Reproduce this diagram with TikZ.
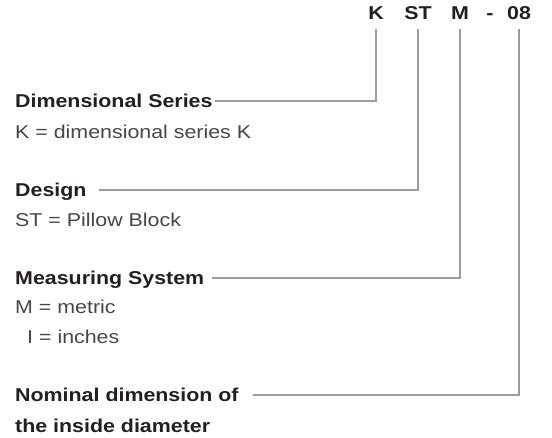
\documentclass[tikz,border=0pt]{standalone}
\usepackage{fontspec}
\setmainfont[FakeStretch=1.15]{Liberation Sans}
\usepackage{tikz}
\definecolor{codeink}{RGB}{35,31,32}
\definecolor{textink}{RGB}{70,70,72}
\definecolor{leadgray}{RGB}{155,155,160}

\begin{document}
\begin{tikzpicture}[x=1pt,y=-1pt,
  codechar/.style={anchor=base,inner xsep=0pt,inner ysep=9pt,text depth=0pt,font=\fontsize{18.6}{22}\selectfont\bfseries,text=codeink},
  heading/.style={anchor=base west,inner sep=0pt,text height=14pt,text depth=0pt,font=\fontsize{18.6}{22}\selectfont\bfseries,text=codeink},
  plain/.style={anchor=base west,inner sep=0pt,font=\fontsize{18.6}{22}\selectfont,text=textink},
  leader/.style={draw=leadgray,line width=1.2pt}]
  \useasboundingbox (0,0) rectangle (552,438);
  % type code
  \node[codechar] (k) at (376,20) {K};
  \node[codechar] (st) at (418,20) {ST};
  \node[codechar] (m) at (460,20) {M};
  \node[codechar] (dash) at (490,20) {-};
  \node[codechar] (size) at (519,20) {08};
  % explanations
  \node[heading] (dim) at (15,108) {Dimensional Series};
  \node[plain] (dimtxt) at (15,139) {K = dimensional series K};
  \node[heading] (design) at (15,197) {Design};
  \node[plain] (designtxt) at (15,227) {ST = Pillow Block};
  \node[heading] (meas) at (15,285) {Measuring System};
  \node[plain] (meastxt) at (15,314) {M = metric};
  \node[plain] (inchtxt) at (27,344) {I = inches};
  \node[heading] (nom) at (15,402) {Nominal dimension of};
  \node[heading] (nomtxt) at (15,432) {the inside diameter};
  % leaders
  \draw[leader] ([xshift=2pt]dim.east) -| (k.south);
  \draw[leader] ([xshift=12pt]design.east) -| (st.south);
  \draw[leader] ([xshift=8pt]meas.east) -| (m.south);
  \draw[leader] ([xshift=14pt]nom.east) -| (size.south);
\end{tikzpicture}
\end{document}
